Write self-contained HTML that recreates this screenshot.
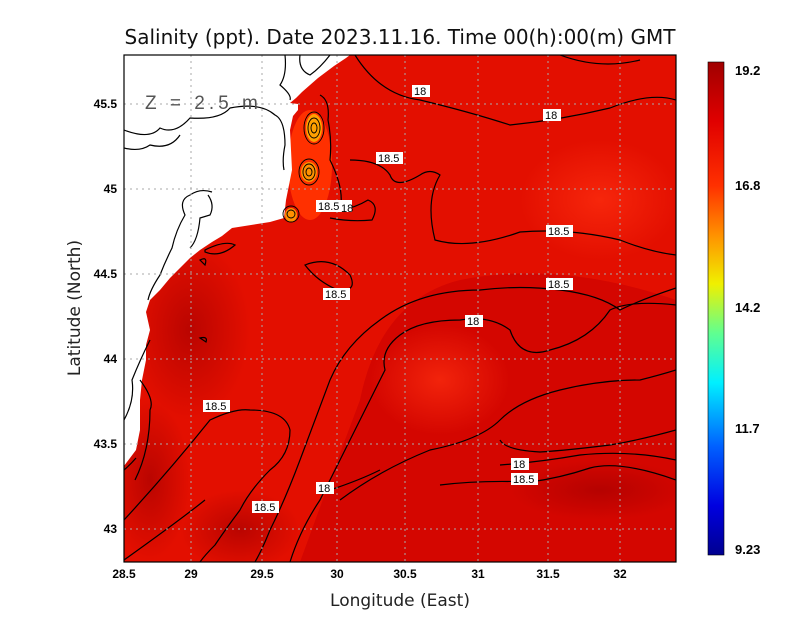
<!DOCTYPE html>
<html><head><style>
body{margin:0;background:#fff;width:800px;height:618px;overflow:hidden}
svg{display:block;font-family:"DejaVu Sans","Liberation Sans",sans-serif}
</style></head><body>
<svg width="800" height="618" viewBox="0 0 800 618">
<defs>
<linearGradient id="cb" x1="0" y1="0" x2="0" y2="1">
<stop offset="0" stop-color="#a00000"/>
<stop offset="0.12" stop-color="#e00000"/>
<stop offset="0.25" stop-color="#ff3000"/>
<stop offset="0.35" stop-color="#ff9000"/>
<stop offset="0.45" stop-color="#f0f000"/>
<stop offset="0.55" stop-color="#60ff90"/>
<stop offset="0.65" stop-color="#00f0ff"/>
<stop offset="0.78" stop-color="#0060ff"/>
<stop offset="0.9" stop-color="#0000e0"/>
<stop offset="1" stop-color="#000090"/>
</linearGradient>
<radialGradient id="g1" cx="0.5" cy="0.5" r="0.5"><stop offset="0" stop-color="#ff3010" stop-opacity="0.7"/><stop offset="1" stop-color="#ff3010" stop-opacity="0"/></radialGradient>
<radialGradient id="g2" cx="0.5" cy="0.5" r="0.5"><stop offset="0" stop-color="#a80000" stop-opacity="0.7"/><stop offset="1" stop-color="#a80000" stop-opacity="0"/></radialGradient>
<clipPath id="pc"><rect x="124" y="55" width="552" height="507"/></clipPath>
</defs>
<text x="400" y="44" text-anchor="middle" font-size="20" fill="#111">Salinity (ppt). Date 2023.11.16. Time 00(h):00(m) GMT</text>
<g clip-path="url(#pc)">
<rect x="124" y="55" width="552" height="507" fill="#d40600"/>
<path d="M350,55 L676,55 L676,300 Q560,260 460,280 Q380,300 360,400 L330,480 L300,562 L124,562 L124,55Z" fill="#ea1400" opacity="0.7"/>
<ellipse cx="440" cy="380" rx="70" ry="55" fill="url(#g1)"/>
<ellipse cx="600" cy="200" rx="80" ry="60" fill="url(#g1)"/>
<ellipse cx="600" cy="490" rx="90" ry="30" fill="url(#g2)"/>
<ellipse cx="190" cy="330" rx="60" ry="90" fill="url(#g2)"/>
<ellipse cx="150" cy="480" rx="40" ry="80" fill="url(#g2)"/>
<ellipse cx="240" cy="530" rx="60" ry="40" fill="url(#g2)"/>
<ellipse cx="310" cy="165" rx="22" ry="55" fill="#ff3000"/>
<ellipse cx="314" cy="128" rx="8" ry="14" fill="#ffa000"/>
<ellipse cx="309" cy="172" rx="8" ry="10" fill="#ff9000"/>
<ellipse cx="291" cy="215" rx="6" ry="7" fill="#ff9000"/>
<path d="M124,55 L350,55 L346,58 L340,62 L334,66 L326,72 L318,78 L310,85 L302,92 L296,98 L290,103 L298,104 L298,110 L293,116 L290,130 L292,170 L286,200 L284,218 L270,222 L232,228 L222,236 L212,242 L200,250 L190,258 L180,268 L170,278 L160,290 L150,300 L146,312 L150,330 L146,345 L146,360 L142,380 L140,400 L140,430 L136,450 L124,466Z" fill="#fff"/>
<g fill="none" stroke="#000" stroke-width="1.2">
<path d="M124,130 Q150,140 160,128 Q175,135 190,118 Q220,120 230,108 Q260,102 275,115 Q285,120 285,145 Q282,160 284,170"/>
<path d="M124,148 Q140,152 150,145 Q170,150 180,135"/>
<path d="M285,55 Q287,75 280,85 Q292,95 290,100"/>
<path d="M300,55 Q298,70 310,75 Q320,68 330,55"/>
<path d="M212,192 Q200,188 190,195 Q178,200 185,215 Q176,230 172,248 Q165,262 160,275 Q150,290 148,300"/>
<path d="M208,195 Q215,205 210,215 L200,218 Q198,240 190,248"/>
<path d="M124,420 Q135,400 132,380 Q140,360 150,340"/>
<path d="M124,470 Q130,465 136,458"/>
<path d="M205,250 Q225,240 235,245 Q220,258 205,252Z"/>
<path d="M200,260 Q208,256 205,265Z"/>
<path d="M305,265 Q330,255 350,275 Q358,292 338,290 Q318,282 305,265Z"/>
<path d="M200,338 Q208,336 206,342Z"/>
<path d="M320,95 Q330,100 328,120 Q332,140 330,160 Q345,190 340,210 Q355,208 368,200 Q380,205 372,220 Q350,222 330,218"/>
<path d="M355,55 Q380,95 420,100 Q470,112 510,125 Q560,120 610,108 Q650,92 676,100"/>
<path d="M350,160 Q380,160 390,175 Q395,190 420,175 Q430,168 440,175 Q425,200 435,240 Q470,250 520,232 Q570,228 620,240 Q650,252 676,255"/>
<path d="M676,288 Q640,300 620,310 Q600,295 560,290 Q520,285 480,290 Q420,290 380,320 Q345,345 330,380 Q315,420 300,460 Q285,500 270,530 Q262,550 255,562"/>
<path d="M560,55 Q600,70 640,60"/>
<path d="M676,305 Q630,300 610,310 Q590,340 550,350 Q520,360 510,330 Q490,315 460,320 Q420,320 400,335 Q380,350 385,370 Q370,400 350,440 Q330,480 320,500 Q300,530 290,562"/>
<path d="M340,500 Q380,470 430,450 Q480,440 500,420 Q520,400 560,390 Q600,380 640,380 Q660,375 676,370"/>
<path d="M330,490 Q360,480 380,470"/>
<path d="M676,430 Q640,440 610,445 Q570,450 540,452 Q505,450 500,440"/>
<path d="M500,465 Q540,462 580,455 Q630,450 676,460"/>
<path d="M676,480 Q620,460 590,468 Q560,478 530,482 Q480,480 440,485"/>
<path d="M124,520 Q170,470 210,420 Q235,408 250,410 Q285,410 290,430 Q290,455 270,470 Q250,490 240,510 Q225,530 215,545 Q205,555 200,562"/>
<path d="M124,560 Q180,520 205,500"/>
<path d="M135,480 Q150,450 150,410 Q155,400 140,380"/>
</g>
<g fill="none" stroke="#000" stroke-width="0.9">
<ellipse cx="314" cy="128" rx="10" ry="16"/><ellipse cx="314" cy="128" rx="6" ry="10"/><ellipse cx="314" cy="128" rx="3" ry="5"/>
<ellipse cx="309" cy="172" rx="10" ry="13"/><ellipse cx="309" cy="172" rx="6" ry="8"/><ellipse cx="309" cy="172" rx="3" ry="4"/>
<ellipse cx="291" cy="214" rx="8" ry="8"/><ellipse cx="291" cy="214" rx="4" ry="4"/>
</g>
</g>
<g stroke="#aaa" stroke-width="1" stroke-dasharray="2,4">
<line x1="191" y1="55" x2="191" y2="562"/><line x1="262" y1="55" x2="262" y2="562"/><line x1="337" y1="55" x2="337" y2="562"/><line x1="405" y1="55" x2="405" y2="562"/><line x1="478" y1="55" x2="478" y2="562"/><line x1="548" y1="55" x2="548" y2="562"/><line x1="620" y1="55" x2="620" y2="562"/>
<line x1="124" y1="104" x2="676" y2="104"/><line x1="124" y1="189" x2="676" y2="189"/><line x1="124" y1="274" x2="676" y2="274"/><line x1="124" y1="359" x2="676" y2="359"/><line x1="124" y1="444" x2="676" y2="444"/><line x1="124" y1="529" x2="676" y2="529"/>
</g>
<g font-size="11" fill="#000" font-family="Liberation Sans, sans-serif">
<g fill="#fff"><rect x="412" y="85" width="18" height="12"/><rect x="543" y="109" width="18" height="12"/><rect x="376" y="152" width="27" height="12"/><rect x="316" y="200" width="36" height="12"/><rect x="546" y="225" width="27" height="12"/><rect x="546" y="278" width="27" height="12"/><rect x="323" y="288" width="27" height="12"/><rect x="465" y="315" width="18" height="12"/><rect x="203" y="400" width="27" height="12"/><rect x="511" y="458" width="18" height="12"/><rect x="511" y="473" width="27" height="12"/><rect x="316" y="482" width="18" height="12"/><rect x="252" y="501" width="27" height="12"/></g>
<text x="414" y="95">18</text><text x="545" y="119">18</text><text x="378" y="162">18.5</text><text x="318" y="210">18.5</text><text x="341" y="212">18</text><text x="548" y="235">18.5</text><text x="548" y="288">18.5</text><text x="325" y="298">18.5</text><text x="467" y="325">18</text><text x="205" y="410">18.5</text><text x="513" y="468">18</text><text x="513" y="483">18.5</text><text x="318" y="492">18</text><text x="254" y="511">18.5</text>
</g>
<text x="145" y="109" font-size="19" fill="#555" letter-spacing="4" font-family="Liberation Sans, sans-serif">Z = 2.5 m</text>
<rect x="124" y="55" width="552" height="507" fill="none" stroke="#000" stroke-width="1.2"/>
<g font-size="12" fill="#000" text-anchor="middle" font-family="Liberation Sans, sans-serif" font-weight="bold">
<text x="124" y="578">28.5</text><text x="191" y="578">29</text><text x="262" y="578">29.5</text><text x="337" y="578">30</text><text x="405" y="578">30.5</text><text x="478" y="578">31</text><text x="548" y="578">31.5</text><text x="620" y="578">32</text>
</g>
<g font-size="12" fill="#000" text-anchor="end" font-family="Liberation Sans, sans-serif" font-weight="bold">
<text x="117" y="108">45.5</text><text x="117" y="193">45</text><text x="117" y="278">44.5</text><text x="117" y="363">44</text><text x="117" y="448">43.5</text><text x="117" y="533">43</text>
</g>
<text x="400" y="606" text-anchor="middle" font-size="17" fill="#222">Longitude (East)</text>
<text transform="translate(80,308) rotate(-90)" text-anchor="middle" font-size="17" fill="#222">Latitude (North)</text>
<rect x="708" y="62" width="16" height="493" fill="url(#cb)" stroke="#000" stroke-width="0.6"/>
<g font-size="13" fill="#000" font-family="Liberation Sans, sans-serif" font-weight="bold">
<text x="735" y="75">19.2</text><text x="735" y="190">16.8</text><text x="735" y="312">14.2</text><text x="735" y="433">11.7</text><text x="735" y="554">9.23</text>
</g>
</svg>
</body></html>
